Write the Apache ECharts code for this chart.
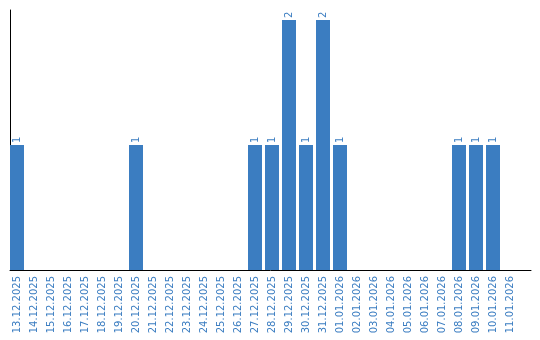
<!DOCTYPE html>
<html><head><meta charset="utf-8">
<script src="https://cdn.jsdelivr.net/npm/echarts@6/dist/echarts.min.js"></script>
<style>html,body{margin:0;padding:0;background:#fff}#c{width:540px;height:340px}</style>
</head><body><div id="c"></div>
<script>
var categories = ["13.12.2025","14.12.2025","15.12.2025","16.12.2025","17.12.2025","18.12.2025","19.12.2025","20.12.2025","21.12.2025","22.12.2025","23.12.2025","24.12.2025","25.12.2025","26.12.2025","27.12.2025","28.12.2025","29.12.2025","30.12.2025","31.12.2025","01.01.2026","02.01.2026","03.01.2026","04.01.2026","05.01.2026","06.01.2026","07.01.2026","08.01.2026","09.01.2026","10.01.2026","11.01.2026"];
var values = [1,0,0,0,0,0,0,1,0,0,0,0,0,0,1,1,2,1,2,1,0,0,0,0,0,0,1,1,1,0];
var yMax = 2.08;

var blue = '#3b7dc1';
var chart = echarts.init(document.getElementById('c'));
chart.setOption({
  animation: false,
  grid: [
    {left: 8.5, width: 510, top: 10, bottom: 70, containLabel: false},
    {left: 10, right: 9, top: 10, bottom: 70, containLabel: false}
  ],
  xAxis: [
    {type: 'category', gridIndex: 0, data: categories,
     axisLine: {show: false}, axisTick: {show: false},
     axisLabel: {rotate: 90, margin: 6, color: blue, fontFamily: 'DejaVu Sans', fontSize: 10, interval: 0}},
    {type: 'value', gridIndex: 1, min: 0, max: 1,
     axisLine: {show: true, lineStyle: {color: '#000', width: 1}}, axisTick: {show: false},
     axisLabel: {show: false}, splitLine: {show: false}}
  ],
  yAxis: [
    {type: 'value', gridIndex: 0, min: 0, max: yMax,
     axisLine: {show: false}, axisTick: {show: false}, axisLabel: {show: false}, splitLine: {show: false}},
    {type: 'value', gridIndex: 1, min: 0, max: 1,
     axisLine: {show: true, lineStyle: {color: '#000', width: 1}}, axisTick: {show: false},
     axisLabel: {show: false}, splitLine: {show: false}}
  ],
  series: [{
    type: 'bar', xAxisIndex: 0, yAxisIndex: 0, data: values,
    barWidth: 14,
    itemStyle: {color: blue},
    label: {
      show: true, position: 'top', rotate: 90, align: 'left', verticalAlign: 'middle',
      distance: 2, color: blue, fontFamily: 'DejaVu Sans', fontSize: 10,
      formatter: function(p){ return p.value > 0 ? String(p.value) : ''; }
    }
  }]
});
</script></body></html>
